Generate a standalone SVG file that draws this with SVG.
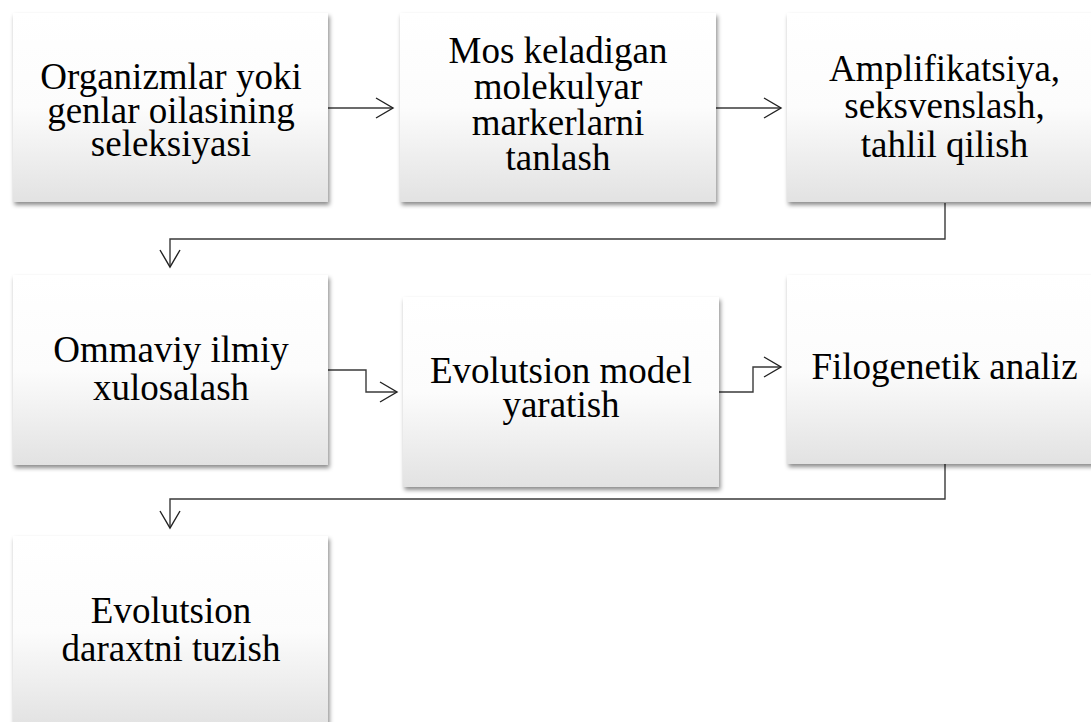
<svg xmlns="http://www.w3.org/2000/svg" width="1091" height="722" viewBox="0 0 1091 722">
<style>
.box{fill:url(#g);filter:url(#sh)}
.t{font-family:"Liberation Serif","Times New Roman",serif;font-size:37px;fill:#000;text-anchor:middle}
.c{fill:none;stroke:#3a3a3a;stroke-width:1.4;marker-end:url(#ah)}
</style>
<defs>
<linearGradient id="g" x1="0" y1="0" x2="0" y2="1">
<stop offset="0" stop-color="#ffffff"/>
<stop offset="0.5" stop-color="#fcfcfc"/>
<stop offset="1" stop-color="#e2e2e2"/>
</linearGradient>
<filter id="sh" x="-10%" y="-10%" width="120%" height="125%">
<feDropShadow dx="1.5" dy="3" stdDeviation="2.2" flood-color="#000" flood-opacity="0.45"/>
</filter>
<marker id="ah" markerUnits="userSpaceOnUse" markerWidth="24" markerHeight="24" viewBox="-20 -12 24 24" refX="0" refY="0" orient="auto">
<path d="M-17,-10 L0,0 L-17,10" fill="none" stroke="#222" stroke-width="1.4"/>
</marker>
</defs>
<g id="connectors">
<path class="c" d="M328,108 H393"/>
<path class="c" d="M716,108 H781"/>
<path class="c" d="M945,203 V239 H170 V267"/>
<path class="c" d="M328,370 H366 V392 H397"/>
<path class="c" d="M719,392 H753 V367 H781"/>
<path class="c" d="M945,464 V499 H170 V528"/>
</g>
<g id="n1">
<rect class="box" x="13" y="13" width="315" height="189"/>
<text class="t" x="171" y="89">Organizmlar yoki</text>
<text class="t" x="171" y="123">genlar oilasining</text>
<text class="t" x="171" y="156">seleksiyasi</text>
</g>
<g id="n2">
<rect class="box" x="400" y="13" width="316" height="189"/>
<text class="t" x="558" y="63">Mos keladigan</text>
<text class="t" x="558" y="99">molekulyar</text>
<text class="t" x="558" y="135">markerlarni</text>
<text class="t" x="558" y="170">tanlash</text>
</g>
<g id="n3">
<rect class="box" x="787" y="13" width="315" height="189"/>
<text class="t" x="944.5" y="81">Amplifikatsiya,</text>
<text class="t" x="944.5" y="118">seksvenslash,</text>
<text class="t" x="944.5" y="157">tahlil qilish</text>
</g>
<g id="n4">
<rect class="box" x="13" y="275" width="315" height="190"/>
<text class="t" x="171" y="362">Ommaviy ilmiy</text>
<text class="t" x="171" y="400">xulosalash</text>
</g>
<g id="n5">
<rect class="box" x="403" y="297" width="316" height="190"/>
<text class="t" x="561" y="383">Evolutsion model</text>
<text class="t" x="561" y="417">yaratish</text>
</g>
<g id="n6">
<rect class="box" x="787" y="275" width="315" height="189"/>
<text class="t" x="944.5" y="379">Filogenetik analiz</text>
</g>
<g id="n7">
<rect class="box" x="13" y="536" width="315" height="190"/>
<text class="t" x="171" y="623">Evolutsion</text>
<text class="t" x="171" y="661">daraxtni tuzish</text>
</g>
</svg>
